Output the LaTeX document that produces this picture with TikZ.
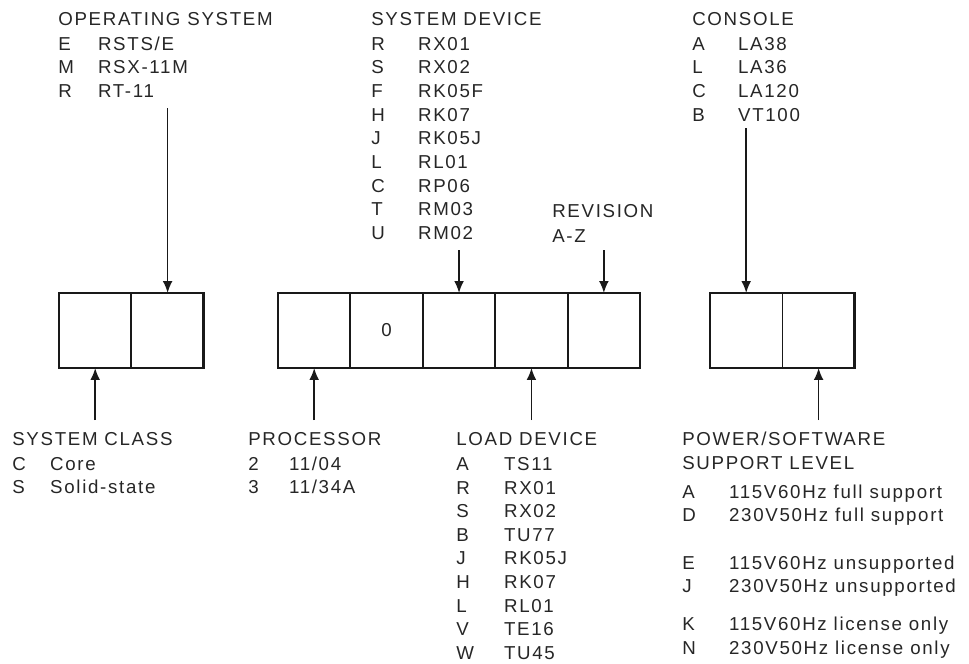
\documentclass[tikz,border=0pt]{standalone}
\usepackage{fontspec}
\setmainfont{Liberation Sans}[LetterSpace=9]
\usetikzlibrary{positioning,arrows.meta}

% code letter + meaning, letter in a fixed column
\newcommand\code[3]{\makebox[#1][l]{#2}#3}

\begin{document}
\begin{tikzpicture}[x=0.025cm, y=-0.025cm, >={Latex[length=8.5pt,width=7pt]},
    cell/.style={draw=black!90, line width=1.3pt, minimum width=1.81cm, minimum height=1.875cm,
        inner sep=0pt, outer sep=0pt, text=black!85, font=\fontsize{13.3}{16.8}\selectfont},
    legend/.style={anchor=north west, inner sep=0pt, align=left, text=black!85,
        font=\fontsize{13.3}{16.8}\selectfont},
    pointer/.style={->, line width=1.2pt, draw=black!90}]

    \useasboundingbox (0,0) rectangle (969,664);

    % 1. Các ô mã
    \node[cell] (cls) at (95.2,330.5) {};
    \node[cell, right=0pt of cls] (os) {};

    \node[cell] (cpu) at (314.2,330.5) {};
    \node[cell, right=0pt of cpu] (zero) {0};
    \node[cell, right=0pt of zero] (sysdev) {};
    \node[cell, right=0pt of sysdev] (load) {};
    \node[cell, right=0pt of load] (rev) {};

    \node[cell] (con) at (746.2,330.5) {};
    \node[cell, right=0pt of con] (pwr) {};

    % viền ngoài đậm hơn
    \draw[line width=2pt, black!90] (cls.north west) rectangle (os.south east);
    \draw[line width=2pt, black!90] (cpu.north west) rectangle (rev.south east);
    \draw[line width=2pt, black!90] (con.north west) rectangle (pwr.south east);

    % 2. Chú thích phía trên
    \node[legend] (osLbl) at (58,12) {OPERATING SYSTEM\\[1pt]
        \code{28.3pt}{E}{RSTS/E}\\ \code{28.3pt}{M}{RSX-11M}\\ \code{28.3pt}{R}{RT-11}};
    \node[legend] (sysdevLbl) at (371,12) {SYSTEM DEVICE\\[1pt]
        \code{33.3pt}{R}{RX01}\\ \code{33.3pt}{S}{RX02}\\ \code{33.3pt}{F}{RK05F}\\
        \code{33.3pt}{H}{RK07}\\ \code{33.3pt}{J}{RK05J}\\ \code{33.3pt}{L}{RL01}\\
        \code{33.3pt}{C}{RP06}\\ \code{33.3pt}{T}{RM03}\\ \code{33.3pt}{U}{RM02}};
    \node[legend] (revLbl) at (552,204) {REVISION\\[1pt] A-Z};
    \node[legend] (conLbl) at (692,12) {CONSOLE\\[1pt]
        \code{32.6pt}{A}{LA38}\\ \code{32.6pt}{L}{LA36}\\ \code{32.6pt}{C}{LA120}\\
        \code{32.6pt}{B}{VT100}};

    % 3. Chú thích phía dưới
    \node[legend] (clsLbl) at (12,432) {SYSTEM CLASS\\[1pt]
        \code{27pt}{C}{Core}\\ \code{27pt}{S}{Solid-state}};
    \node[legend] (cpuLbl) at (248,432) {PROCESSOR\\[1pt]
        \code{29pt}{2}{11/04}\\ \code{29pt}{3}{11/34A}};
    \node[legend] (loadLbl) at (456,432) {LOAD DEVICE\\[1pt]
        \code{34pt}{A}{TS11}\\ \code{34pt}{R}{RX01}\\ \code{34pt}{S}{RX02}\\
        \code{34pt}{B}{TU77}\\ \code{34pt}{J}{RK05J}\\ \code{34pt}{H}{RK07}\\
        \code{34pt}{L}{RL01}\\ \code{34pt}{V}{TE16}\\ \code{34pt}{W}{TU45}};
    \node[legend] (pwrLbl) at (682,432) {POWER/SOFTWARE\\ SUPPORT LEVEL\\[3.5pt]
        \code{33.3pt}{A}{115V60Hz full support}\\ \code{33.3pt}{D}{230V50Hz full support}\\[17pt]
        \code{33.3pt}{E}{115V60Hz unsupported}\\ \code{33.3pt}{J}{230V50Hz unsupported}\\[10pt]
        \code{33.3pt}{K}{115V60Hz license only}\\ \code{33.3pt}{N}{230V50Hz license only}};

    % 4. Mũi tên
    \coordinate (osFrom) at (os.north |- 0,108);
    \coordinate (sysdevFrom) at (sysdev.north |- 0,250);
    \coordinate (revFrom) at (rev.north |- 0,250);
    \coordinate (conFrom) at (con.north |- 0,128);
    \draw[pointer] (osFrom) -- (os.north);
    \draw[pointer] (sysdevFrom) -- (sysdev.north);
    \draw[pointer] (revFrom) -- (rev.north);
    \draw[pointer] (conFrom) -- (con.north);

    \coordinate (clsFrom) at (cls.south |- 0,420);
    \coordinate (cpuFrom) at (cpu.south |- 0,420);
    \coordinate (loadFrom) at (load.south |- 0,420);
    \coordinate (pwrFrom) at (pwr.south |- 0,420);
    \draw[pointer] (clsFrom) -- (cls.south);
    \draw[pointer] (cpuFrom) -- (cpu.south);
    \draw[pointer] (loadFrom) -- (load.south);
    \draw[pointer] (pwrFrom) -- (pwr.south);

\end{tikzpicture}
\end{document}
